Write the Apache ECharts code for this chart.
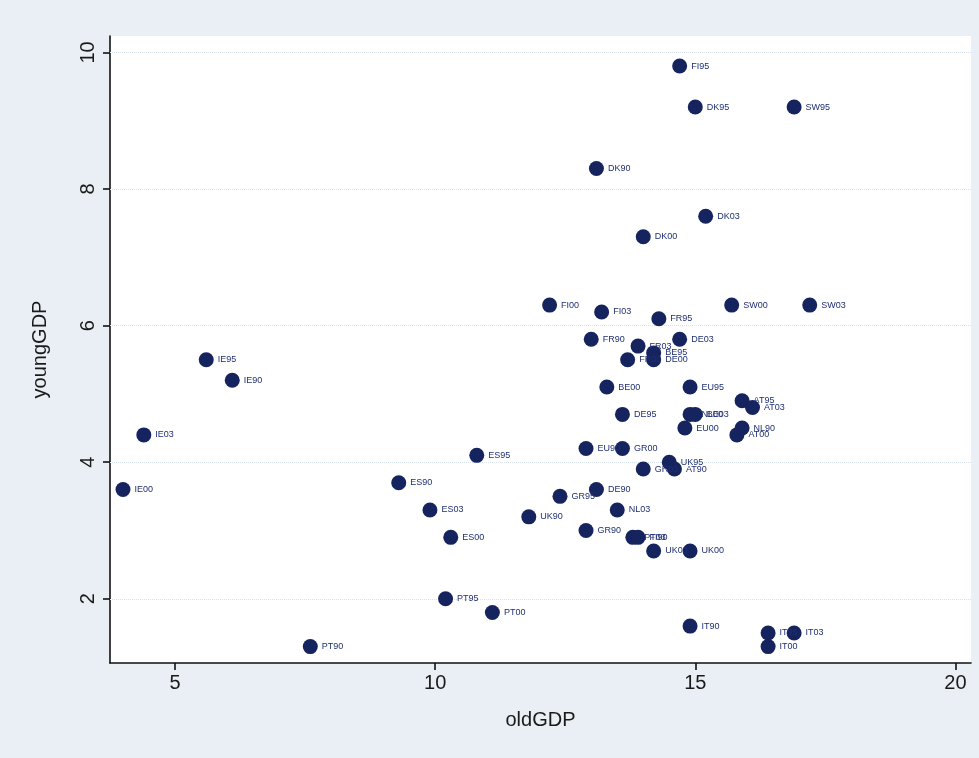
<!DOCTYPE html>
<html>
<head>
<meta charset="utf-8">
<script src="https://cdn.jsdelivr.net/npm/echarts@6/dist/echarts.min.js"></script>
<style>
  html, body { margin: 0; padding: 0; background: #e9eff4; }
  #chart { width: 979px; height: 758px; }
</style>
</head>
<body>
<div id="chart"></div>
<script>
// Country-year observations: share of GDP going to the old vs the young
const countries = [
  'FI95', 'DK95', 'SW95', 'DK90', 'DK03', 'DK00',
  'FI00', 'FI03', 'FR95', 'SW00', 'SW03',
  'FR90', 'DE03', 'FR03', 'BE95', 'FR00', 'DE00',
  'BE00', 'EU95', 'AT95', 'AT03', 'DE95', 'NL00', 'BE03',
  'EU00', 'NL90', 'AT00', 'EU90', 'GR00', 'UK95', 'AT90', 'GR03',
  'DE90', 'GR95', 'NL03', 'GR90', 'PT03', 'FI90', 'UK03', 'UK00',
  'ES95', 'ES90', 'ES03', 'UK90', 'ES00',
  'IE95', 'IE90', 'IE03', 'IE00',
  'PT90', 'PT95', 'PT00', 'IT90', 'IT95', 'IT03', 'IT00'
];
const oldGDP = [
  14.7, 15.0, 16.9, 13.1, 15.2, 14.0,
  12.2, 13.2, 14.3, 15.7, 17.2,
  13.0, 14.7, 13.9, 14.2, 13.7, 14.2,
  13.3, 14.9, 15.9, 16.1, 13.6, 14.9, 15.0,
  14.8, 15.9, 15.8, 12.9, 13.6, 14.5, 14.6, 14.0,
  13.1, 12.4, 13.5, 12.9, 13.8, 13.9, 14.2, 14.9,
  10.8, 9.3, 9.9, 11.8, 10.3,
  5.6, 6.1, 4.4, 4.0,
  7.6, 10.2, 11.1, 14.9, 16.4, 16.9, 16.4
];
const youngGDP = [
  9.8, 9.2, 9.2, 8.3, 7.6, 7.3,
  6.3, 6.2, 6.1, 6.3, 6.3,
  5.8, 5.8, 5.7, 5.6, 5.5, 5.5,
  5.1, 5.1, 4.9, 4.8, 4.7, 4.7, 4.7,
  4.5, 4.5, 4.4, 4.2, 4.2, 4.0, 3.9, 3.9,
  3.6, 3.5, 3.3, 3.0, 2.9, 2.9, 2.7, 2.7,
  4.1, 3.7, 3.3, 3.2, 2.9,
  5.5, 5.2, 4.4, 3.6,
  1.3, 2.0, 1.8, 1.6, 1.5, 1.5, 1.3
];
const xTicks = [5, 10, 15, 20];
const yTicks = [2, 4, 6, 8, 10];

const points = countries.map((name, i) => ({ name: name, value: [oldGDP[i], youngGDP[i]] }));

const navy = '#15235e';
const axisFont = 'Liberation Sans, Arial, sans-serif';

const chart = echarts.init(document.getElementById('chart'), null, { renderer: 'canvas' });
chart.setOption({
  backgroundColor: '#e9eff4',
  animation: false,
  grid: {
    left: 110, right: 8, top: 36, bottom: 95,
    show: true, backgroundColor: '#ffffff', borderWidth: 0
  },
  xAxis: {
    type: 'value',
    min: 3.75, max: 20.3,
    name: 'oldGDP',
    nameLocation: 'middle',
    nameGap: 47,
    nameTextStyle: { fontFamily: axisFont, fontSize: 20, color: '#1a1a1a' },
    axisLine: { show: true, onZero: false, lineStyle: { color: '#111', width: 1.6 } },
    axisTick: { show: true, length: 7, customValues: xTicks, lineStyle: { color: '#111', width: 1.6 } },
    axisLabel: { customValues: xTicks, fontFamily: axisFont, fontSize: 20, color: '#1a1a1a', margin: 10 },
    splitLine: { show: false }
  },
  yAxis: {
    type: 'value',
    min: 1.06, max: 10.24,
    name: 'youngGDP',
    nameLocation: 'middle',
    nameGap: 60,
    nameTextStyle: { fontFamily: axisFont, fontSize: 20, color: '#1a1a1a' },
    axisLine: { show: true, onZero: false, lineStyle: { color: '#111', width: 1.6 } },
    axisTick: { show: true, length: 7, customValues: yTicks, lineStyle: { color: '#111', width: 1.6 } },
    axisLabel: { customValues: yTicks, rotate: 90, fontFamily: axisFont, fontSize: 20, color: '#1a1a1a', margin: 12 },
    splitLine: { show: false }
  },
  series: [
    {
      // horizontal reference lines at the y ticks, kept beneath the markers
      type: 'scatter',
      data: [],
      z: 1,
      markLine: {
        z: 1,
        silent: true,
        symbol: 'none',
        label: { show: false },
        lineStyle: { color: '#d6e1eb', width: 1, type: 'dotted' },
        data: yTicks.map(v => ({ yAxis: v }))
      }
    },
    {
      type: 'scatter',
      data: points,
      symbol: 'circle',
      symbolSize: 15,
      itemStyle: { color: navy, opacity: 1 },
      label: {
        show: true,
        position: 'right',
        distance: 4,
        formatter: '{b}',
        fontFamily: axisFont,
        fontSize: 9,
        color: '#1f2f73'
      },
      labelLayout: { hideOverlap: false },
      z: 3
    }
  ]
});
</script>
</body>
</html>
